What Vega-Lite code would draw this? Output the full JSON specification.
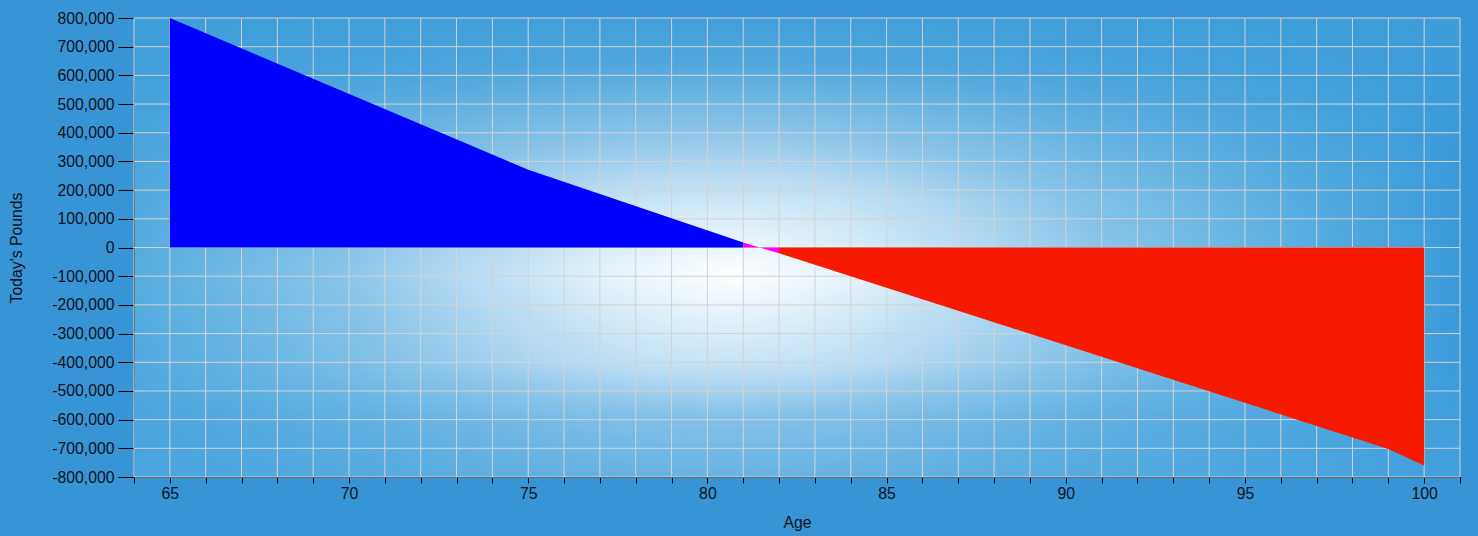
{
  "$schema": "https://vega.github.io/schema/vega-lite/v6.json",
  "width": 1326,
  "height": 459,
  "autosize": {"type": "none"},
  "padding": {"left": 134, "top": 18, "right": 18, "bottom": 59},
  "background": "#3794d5",
  "view": {
    "stroke": null,
    "fill": {
      "gradient": "radial",
      "x1": 0.45, "y1": 0.521, "r1": 0,
      "x2": 0.45, "y2": 0.521, "r2": 0.56,
      "stops": [
        {"offset": 0, "color": "#ffffff"},
        {"offset": 0.175, "color": "#e4f2fa"},
        {"offset": 0.35, "color": "#b8dcf2"},
        {"offset": 0.52, "color": "#8ac6ea"},
        {"offset": 0.8, "color": "#58ade0"},
        {"offset": 1, "color": "#3698d8"}
      ]
    }
  },
  "datasets": {
    "ages": [
      {"age": 64}, {"age": 65}, {"age": 66}, {"age": 67}, {"age": 68}, {"age": 69}, {"age": 70}, {"age": 71},
      {"age": 72}, {"age": 73}, {"age": 74}, {"age": 75}, {"age": 76}, {"age": 77}, {"age": 78}, {"age": 79},
      {"age": 80}, {"age": 81}, {"age": 82}, {"age": 83}, {"age": 84}, {"age": 85}, {"age": 86}, {"age": 87},
      {"age": 88}, {"age": 89}, {"age": 90}, {"age": 91}, {"age": 92}, {"age": 93}, {"age": 94}, {"age": 95},
      {"age": 96}, {"age": 97}, {"age": 98}, {"age": 99}, {"age": 100}, {"age": 101}
    ],
    "levels": [
      {"pounds": -800000}, {"pounds": -700000}, {"pounds": -600000}, {"pounds": -500000}, {"pounds": -400000},
      {"pounds": -300000}, {"pounds": -200000}, {"pounds": -100000}, {"pounds": 0}, {"pounds": 100000},
      {"pounds": 200000}, {"pounds": 300000}, {"pounds": 400000}, {"pounds": 500000}, {"pounds": 600000},
      {"pounds": 700000}, {"pounds": 800000}
    ],
    "balance": [
      {"age": 65, "pounds": 800000, "series": "surplus"},
      {"age": 75, "pounds": 271000, "series": "surplus"},
      {"age": 81, "pounds": 17000, "series": "surplus"},
      {"age": 81, "pounds": 17000, "series": "crossing"},
      {"age": 82, "pounds": -20000, "series": "crossing"},
      {"age": 82, "pounds": -20000, "series": "shortfall"},
      {"age": 99, "pounds": -702000, "series": "shortfall"},
      {"age": 100, "pounds": -760000, "series": "shortfall"}
    ]
  },
  "layer": [
    {
      "data": {"values": [{"shade": "vertical"}]},
      "mark": {
        "type": "rect",
        "fill": {
          "gradient": "linear",
          "x1": 0, "y1": 0, "x2": 0, "y2": 1,
          "stops": [
            {"offset": 0, "color": "rgba(62,157,217,0.97)"},
            {"offset": 0.1, "color": "rgba(62,157,217,0.85)"},
            {"offset": 0.25, "color": "rgba(62,157,217,0.5)"},
            {"offset": 0.4, "color": "rgba(62,157,217,0.18)"},
            {"offset": 0.56, "color": "rgba(62,157,217,0)"},
            {"offset": 0.75, "color": "rgba(70,162,222,0.22)"},
            {"offset": 0.87, "color": "rgba(70,162,222,0.6)"},
            {"offset": 1, "color": "rgba(70,162,222,0.75)"}
          ]
        }
      },
      "encoding": {}
    },
    {
      "data": {"name": "ages"},
      "mark": {"type": "rule", "color": "#d3d3d3", "strokeWidth": 1},
      "encoding": {
        "x": {
          "field": "age",
          "type": "quantitative",
          "scale": {"domain": [64, 101], "nice": false, "zero": false},
          "axis": {
            "title": "Age",
            "values": [64, 65, 66, 67, 68, 69, 70, 71, 72, 73, 74, 75, 76, 77, 78, 79, 80, 81, 82, 83, 84, 85, 86, 87, 88, 89, 90, 91, 92, 93, 94, 95, 96, 97, 98, 99, 100, 101],
            "labelExpr": "datum.value % 5 === 0 ? datum.value : ''",
            "tickSize": 6,
            "labelPadding": 3,
            "titlePadding": 15
          }
        }
      }
    },
    {
      "data": {"name": "levels"},
      "mark": {"type": "rule", "color": "#d3d3d3", "strokeWidth": 1},
      "encoding": {
        "y": {
          "field": "pounds",
          "type": "quantitative",
          "scale": {"domain": [-800000, 800000], "nice": false},
          "axis": {
            "title": "Today's Pounds",
            "values": [-800000, -700000, -600000, -500000, -400000, -300000, -200000, -100000, 0, 100000, 200000, 300000, 400000, 500000, 600000, 700000, 800000],
            "labelExpr": "(datum.value < 0 ? '-' : '') + format(abs(datum.value), ',.0f')",
            "tickSize": 16,
            "labelPadding": 4,
            "titlePadding": 27
          }
        }
      }
    },
    {
      "data": {"name": "balance"},
      "mark": {"type": "area", "opacity": 1},
      "encoding": {
        "x": {
          "field": "age",
          "type": "quantitative",
          "scale": {"domain": [64, 101], "nice": false, "zero": false},
          "axis": {
            "title": "Age",
            "values": [64, 65, 66, 67, 68, 69, 70, 71, 72, 73, 74, 75, 76, 77, 78, 79, 80, 81, 82, 83, 84, 85, 86, 87, 88, 89, 90, 91, 92, 93, 94, 95, 96, 97, 98, 99, 100, 101],
            "labelExpr": "datum.value % 5 === 0 ? datum.value : ''",
            "tickSize": 6,
            "labelPadding": 3,
            "titlePadding": 15
          }
        },
        "y": {
          "field": "pounds",
          "type": "quantitative",
          "stack": null,
          "scale": {"domain": [-800000, 800000], "nice": false},
          "axis": {
            "title": "Today's Pounds",
            "values": [-800000, -700000, -600000, -500000, -400000, -300000, -200000, -100000, 0, 100000, 200000, 300000, 400000, 500000, 600000, 700000, 800000],
            "labelExpr": "(datum.value < 0 ? '-' : '') + format(abs(datum.value), ',.0f')",
            "tickSize": 16,
            "labelPadding": 4,
            "titlePadding": 27
          }
        },
        "color": {
          "field": "series",
          "type": "nominal",
          "scale": {"domain": ["surplus", "crossing", "shortfall"], "range": ["#0000ff", "#ff00ff", "#f81a00"]},
          "legend": null
        }
      }
    }
  ],
  "config": {
    "font": "Liberation Sans",
    "axis": {
      "grid": false,
      "domainColor": "#000000",
      "tickColor": "#000000",
      "labelColor": "#111122",
      "titleColor": "#111122",
      "labelFontSize": 15.8,
      "titleFontSize": 15.8,
      "titleFontWeight": "normal",
      "labelFont": "Liberation Sans",
      "titleFont": "Liberation Sans",
      "labelFlush": false,
      "labelOverlap": false
    }
  }
}
